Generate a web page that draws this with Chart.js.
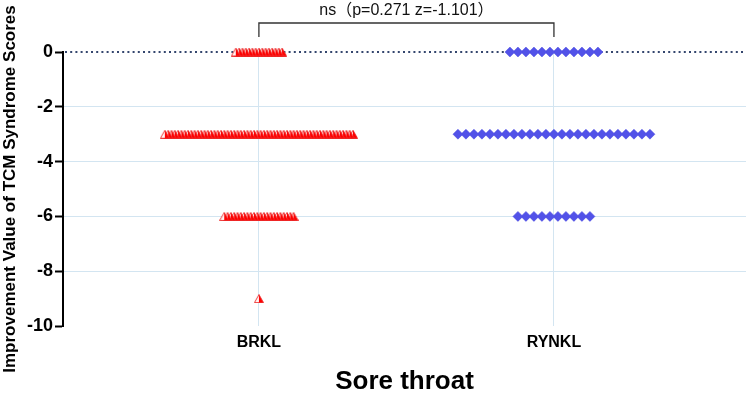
<!DOCTYPE html>
<html><head><meta charset="utf-8">
<script src="https://cdn.jsdelivr.net/npm/chart.js@4.4.0/dist/chart.umd.min.js"></script>
<style>html,body{margin:0;padding:0;background:#fff}#wrap{width:754px;height:397px}</style>
</head><body><div id="wrap"><canvas id="c" width="754" height="397"></canvas></div>
<script>
// ---- data ----
const categories = ['BRKL', 'RYNKL'];
const scoreLevels = [0, -3, -6, -9];
const brklCounts = [15, 58, 22, 1];
const rynklCounts = [12, 25, 10, 0];
const yTickValues = [0, -2, -4, -6, -8, -10];
const statLabel = 'ns（p=0.271 z=-1.101）';
const yTitle = 'Improvement Value of TCM Syndrome Scores';
const xTitle = 'Sore throat';

// ---- layout / style ----
const X_MIN = 0.336, X_MAX = 2.651, PX_PER_UNIT = 295;
const TRI_STEP_PX = 3.3, DIA_STEP_PX = 8;
const GRID = '#d3e5f1';
const FONT = "'Liberation Sans', Arial, 'Noto Sans CJK SC', sans-serif";

function triangleImage() {
  const c = document.createElement('canvas');
  c.width = 10; c.height = 9;
  const g = c.getContext('2d');
  const path = () => { g.beginPath(); g.moveTo(0.5, 8.5); g.lineTo(5, 0.5); g.lineTo(9.5, 8.5); g.closePath(); };
  path(); g.fillStyle = '#fff4f4'; g.fill();
  g.save(); g.beginPath(); g.rect(5, 0, 5, 9); g.clip(); path(); g.fillStyle = '#ff0000'; g.fill(); g.restore();
  path(); g.strokeStyle = 'rgba(235,30,30,0.85)'; g.lineWidth = 1; g.stroke();
  return c;
}

function spread(catIndex, counts, stepPx) {
  const pts = [];
  const cx = catIndex + 1;
  scoreLevels.forEach((v, k) => {
    const n = counts[k];
    for (let i = n - 1; i >= 0; i--) {
      pts.push({ x: cx + (i - (n - 1) / 2) * stepPx / PX_PER_UNIT, y: v });
    }
  });
  return pts;
}

const overlay = {
  id: 'overlay',
  beforeDatasetsDraw(chart) {
    const { ctx, chartArea, scales } = chart;
    const y0 = scales.y.getPixelForValue(0);
    ctx.save();
    ctx.strokeStyle = '#34466e';
    ctx.lineWidth = 2;
    ctx.setLineDash([2, 3.2]);
    ctx.beginPath(); ctx.moveTo(chartArea.left + 2, y0); ctx.lineTo(chartArea.right, y0); ctx.stroke();
    ctx.restore();
  },
  afterDraw(chart) {
    const { ctx, scales } = chart;
    const x1 = scales.x.getPixelForValue(1), x2 = scales.x.getPixelForValue(2);
    ctx.save();
    ctx.strokeStyle = '#333'; ctx.lineWidth = 1.3;
    ctx.beginPath(); ctx.moveTo(x1, 37); ctx.lineTo(x1, 23); ctx.lineTo(x2, 23); ctx.lineTo(x2, 37); ctx.stroke();
    ctx.fillStyle = '#111'; ctx.font = '16px ' + FONT; ctx.textAlign = 'center'; ctx.textBaseline = 'middle';
    ctx.fillText(statLabel, (x1 + x2) / 2, 11);
    ctx.restore();
  }
};

new Chart(document.getElementById('c'), {
  type: 'scatter',
  data: {
    datasets: [
      { label: categories[0], data: spread(0, brklCounts, TRI_STEP_PX), pointStyle: triangleImage(), clip: false },
      { label: categories[1], data: spread(1, rynklCounts, DIA_STEP_PX), pointStyle: 'rectRot', pointRadius: 5,
        backgroundColor: '#5252e8', borderColor: '#4a4ae0', borderWidth: 0.5, clip: false }
    ]
  },
  options: {
    responsive: false, animation: false,
    layout: { padding: { top: 52, right: 8, left: 0, bottom: 0 } },
    plugins: { legend: { display: false }, tooltip: { enabled: false } },
    scales: {
      x: {
        type: 'linear', min: X_MIN, max: X_MAX,
        afterBuildTicks: s => { s.ticks = categories.map((c, i) => ({ value: i + 1 })); },
        afterFit: s => { s.height = 71; },
        ticks: { callback: v => categories[Math.round(v) - 1] || '', color: '#000', font: { family: FONT, size: 16, weight: 'bold' }, padding: 7, autoSkip: false, maxRotation: 0 },
        grid: { color: GRID, lineWidth: 1, drawTicks: false },
        border: { display: false },
        title: { display: true, text: xTitle, color: '#000', font: { family: FONT, size: 26, weight: 'bold' }, padding: { top: 8, bottom: 0 } }
      },
      y: {
        min: -10, max: 0,
        afterBuildTicks: s => { s.ticks = yTickValues.map(v => ({ value: v })); },
        afterFit: s => { s.width = 63; },
        ticks: { color: '#000', font: { family: FONT, size: 18, weight: 'bold' }, padding: 2 },
        grid: {
          color: c => (c.tick && (c.tick.value === 0 || c.tick.value === -10)) ? 'rgba(0,0,0,0)' : GRID,
          lineWidth: 1, tickColor: '#000', tickWidth: 2, tickLength: 8
        },
        border: { color: '#000', width: 2 },
        title: { display: true, text: yTitle, color: '#000', font: { family: FONT, size: 17, weight: 'bold' }, padding: { top: 0, bottom: 0 } }
      }
    }
  },
  plugins: [overlay]
});
</script></body></html>
